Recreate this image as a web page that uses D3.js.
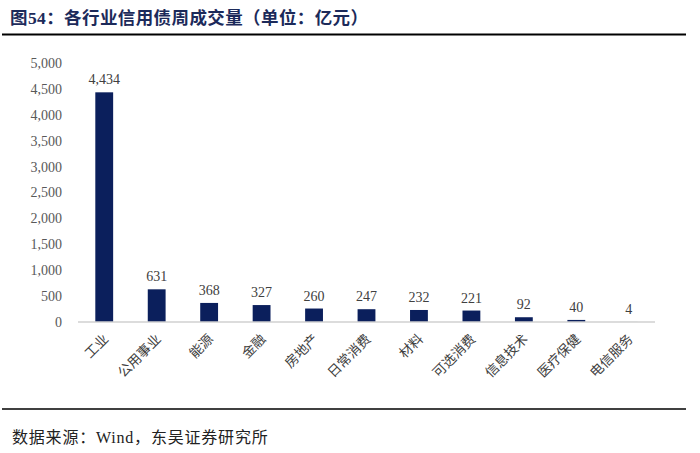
<!DOCTYPE html>
<html><head><meta charset="utf-8">
<script src="https://cdn.jsdelivr.net/npm/d3@7"></script>
<style>
html,body{margin:0;padding:0;background:#fff;}
svg{display:block;}
</style>
</head><body>
<svg id="c" width="700" height="453"></svg>
<script>
const categories = ["工业","公用事业","能源","金融","房地产","日常消费","材料","可选消费","信息技术","医疗保健","电信服务"];
const values = [4434,631,368,327,260,247,232,221,92,40,4];
const yTicks = [0,500,1000,1500,2000,2500,3000,3500,4000,4500,5000];
const titleText = "图54：各行业信用债周成交量（单位：亿元）";
const sourceText = "数据来源：Wind，东吴证券研究所";

const svg = d3.select("#c");
const serif = "'Liberation Serif','Times New Roman','Noto Sans CJK SC',serif";
const cjk = "'Liberation Serif','Noto Sans CJK SC',sans-serif";

// title
svg.append("text").attr("x",10).attr("y",24)
  .attr("font-family",cjk).attr("font-weight","bold").attr("font-size",17.5)
  .attr("letter-spacing",0.4)
  .attr("fill","#1c2a5a").text(titleText);
svg.append("line").attr("x1",2).attr("x2",686).attr("y1",34.5).attr("y2",34.5)
  .attr("stroke","#000").attr("stroke-width",2);

// bottom rule + source
svg.append("line").attr("x1",2).attr("x2",686).attr("y1",409).attr("y2",409)
  .attr("stroke","#000").attr("stroke-width",1.5);
svg.append("text").attr("x",12).attr("y",443)
  .attr("font-family",cjk).attr("font-size",16).attr("letter-spacing",0.8)
  .attr("fill","#222").text(sourceText);

const x = d3.scaleBand().domain(categories).range([78,655]).paddingInner(0.66).paddingOuter(0.33);
const y = d3.scaleLinear().domain([0,5000]).range([322,63]);

// y axis labels
const yAxis = d3.axisLeft(y).tickValues(yTicks).tickFormat(d3.format(",")).tickSize(0).tickPadding(0);
const ya = svg.append("g").attr("transform","translate(62,0)").call(yAxis);
ya.select(".domain").remove();
ya.selectAll("text").attr("font-family",serif).attr("font-size",14).attr("fill","#595959");

// bars
svg.append("g").selectAll("rect").data(categories).join("rect")
  .attr("x",d=>x(d)).attr("width",x.bandwidth())
  .attr("y",(d,i)=>y(values[i])).attr("height",(d,i)=>y(0)-y(values[i]))
  .attr("fill",(d,i)=> i===categories.length-1 ? "#b4b9c6" : "#0b1f5c");

// x axis
const xAxis = d3.axisBottom(x).tickSize(0).tickPadding(0);
const xa = svg.append("g").attr("transform","translate(0,322)").call(xAxis);
xa.select(".domain").attr("d","M78,0H655").attr("stroke","#d0d0d0").attr("stroke-width",1.5);
xa.selectAll("text")
  .attr("font-family",cjk).attr("font-size",13.5).attr("fill","#404040")
  .attr("text-anchor","end").attr("dy",null).attr("y",0)
  .attr("transform","translate(5,18) rotate(-45)");

// value labels
svg.append("g").selectAll("text").data(categories).join("text")
  .attr("x",d=>x(d)+x.bandwidth()/2).attr("y",(d,i)=>y(values[i])-8)
  .attr("text-anchor","middle").attr("font-family",serif).attr("font-size",14)
  .attr("fill","#404040").text((d,i)=>d3.format(",")(values[i]));
</script>
</body></html>
